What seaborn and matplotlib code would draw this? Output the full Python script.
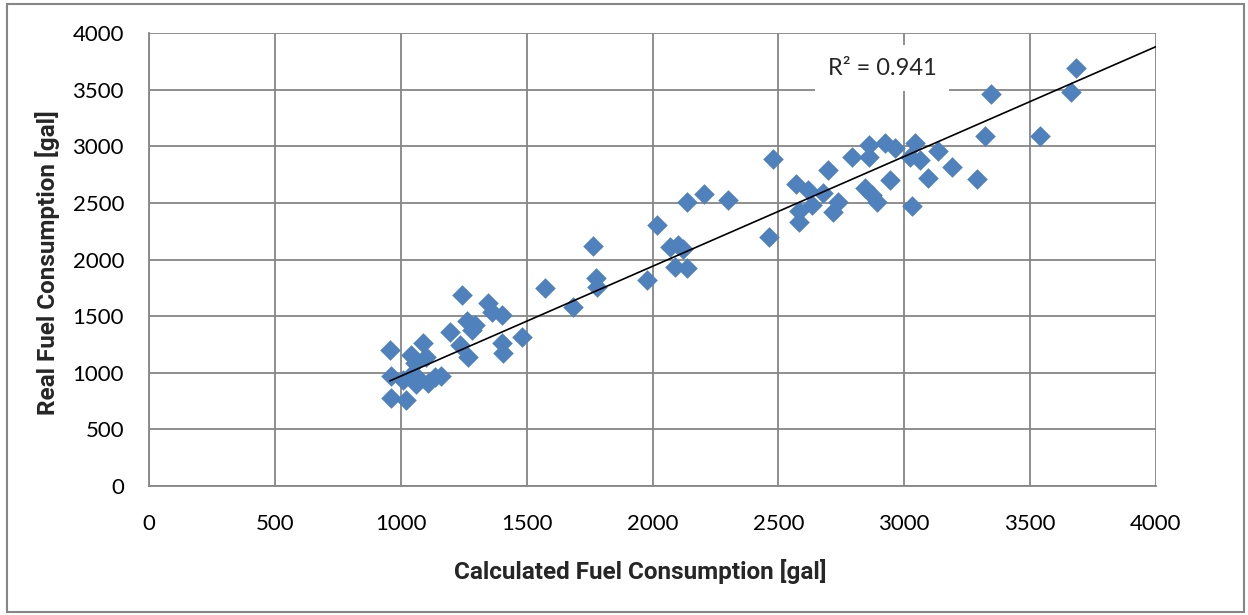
import numpy as np
import pandas as pd
import seaborn as sns
import matplotlib.pyplot as plt
from matplotlib.patches import Rectangle

# values
calc = [957, 1040, 1090, 1100, 1055, 960, 1010, 1045, 1070, 1110, 1135, 1160,
        960, 1020, 1060,
        1196, 1235, 1242, 1262, 1268, 1282, 1295, 1348, 1361, 1401, 1401, 1408,
        1480, 1573, 1686, 1765, 1776, 1781, 1977, 2019, 2069, 2100, 2120, 2089,
        2136, 2138, 2205, 2301, 2464, 2477, 2570, 2583, 2583, 2619, 2632, 2679,
        2698, 2718, 2738, 2791, 2844, 2861, 2861, 2871, 2890, 2924, 2943, 2963,
        3030, 3023, 3043, 3063, 3096, 3135, 3188, 3290, 3321, 3343, 3539, 3661,
        3682]
real = [1201, 1160, 1260, 1140, 1090, 970, 935, 990, 950, 910, 960, 975,
        775, 760, 900,
        1360, 1245, 1686, 1460, 1142, 1378, 1420, 1613, 1539, 1510, 1260, 1171,
        1318, 1746, 1584, 2119, 1834, 1760, 1819, 2305, 2107, 2130, 2095, 1931,
        1922, 2511, 2578, 2525, 2196, 2887, 2667, 2431, 2334, 2614, 2481, 2584,
        2790, 2422, 2511, 2902, 2629, 3011, 2908, 2570, 2511, 3026, 2702, 2981,
        2472, 2908, 3026, 2879, 2717, 2961, 2814, 2708, 3091, 3458, 3091, 3482,
        3688]
r2_label = "R² = 0.941"

df = pd.DataFrame({"calc": calc, "real": real})

sns.set_style("white")
plt.rcParams['font.family'] = ['Lato', 'DejaVu Sans']

W, H = 1248, 615
fig = plt.figure(figsize=(W / 100, H / 100), dpi=100)
ax = fig.add_axes([149 / W, 1 - 486 / H, (1156 - 149) / W, (486 - 33) / H])

grid_c = "#868686"
ax.set_xlim(0, 4000)
ax.set_ylim(0, 4000)
ax.set_xticks(np.arange(0, 4001, 500))
ax.set_yticks(np.arange(0, 4001, 500))
ax.grid(True, color=grid_c, linewidth=1.3)
ax.set_axisbelow(True)
for s in ["top", "right"]:
    ax.spines[s].set_visible(False)
for s in ["left", "bottom"]:
    ax.spines[s].set_color(grid_c)
    ax.spines[s].set_linewidth(1.3)
ax.tick_params(length=0, labelsize=16, colors="black")
ax.tick_params(axis="x", pad=20)
ax.tick_params(axis="y", pad=18)

sns.scatterplot(data=df, x="calc", y="real", marker="D", s=110,
                color="#4F81BD", edgecolor="#4F81BD", linewidth=0, ax=ax,
                zorder=3)

# linear trend line, intercept fixed at zero
x = np.array(calc, dtype=float)
y = np.array(real, dtype=float)
b = (x * y).sum() / (x * x).sum()
xs = np.array([x.min(), 4000])
ax.plot(xs, b * xs, color="black", linewidth=1.2, zorder=4)

ax.text(2912, 3690, r2_label, fontsize=17, ha="center", va="center",
        bbox=dict(facecolor="white", edgecolor="none", pad=9), zorder=5)

ax.set_xlabel("")
ax.set_ylabel("")
fig.text(640 / W, 1 - 572 / H, "Calculated Fuel Consumption [gal]",
         fontsize=17.5, fontweight="bold", ha="center", va="center",
         family=["Roboto", "DejaVu Sans"])
fig.text(48 / W, 1 - 263 / H, "Real Fuel Consumption [gal]",
         fontsize=17.5, fontweight="bold", ha="center", va="center",
         rotation=90, family=["Roboto", "DejaVu Sans"])

# chart border
fig.add_artist(Rectangle((7 / W, 3 / H), (1244 - 7) / W, (611 - 3) / H,
                         transform=fig.transFigure, fill=False,
                         edgecolor=grid_c, linewidth=1.5))

fig.savefig("out.png", dpi=100)
